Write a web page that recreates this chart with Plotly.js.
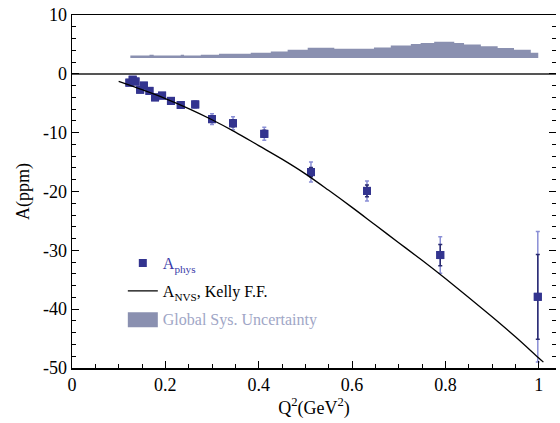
<!DOCTYPE html>
<html>
<head>
<meta charset="utf-8">
<script src="https://cdn.plot.ly/plotly-3.0.1.min.js"></script>
<style>
html,body{margin:0;padding:0;background:#fff;}
#chart{width:560px;height:423px;}
#chart .xtick text, #chart .ytick text, #chart .g-xtitle text, #chart .g-ytitle text, #chart .legendtext {
  font-family: 'Liberation Serif', 'Times New Roman', Times, serif !important;
}
</style>
</head>
<body>
<div id="chart"></div>
<script>
// Measured asymmetry
const q2 = [0.123, 0.130, 0.136, 0.146, 0.154, 0.166, 0.178, 0.193, 0.212, 0.233, 0.264, 0.300, 0.345, 0.412, 0.512, 0.632, 0.789, 0.998];
const aPhys = [-1.5, -1.0, -1.3, -2.7, -2.0, -2.9, -4.0, -3.7, -4.6, -5.3, -5.2, -7.7, -8.4, -10.2, -16.7, -19.9, -30.8, -37.9];
const statErr = [0.3, 0.3, 0.3, 0.3, 0.3, 0.3, 0.3, 0.3, 0.3, 0.3, 0.35, 0.5, 0.6, 0.6, 0.8, 1.0, 1.8, 7.2];
const totErr = [0.45, 0.45, 0.45, 0.45, 0.45, 0.45, 0.45, 0.45, 0.45, 0.45, 0.6, 0.9, 1.1, 1.1, 1.7, 1.7, 3.1, 11.1];

// A_NVS curve (Kelly form factors)
const curveQ2 = [0.10, 0.15, 0.20, 0.25, 0.30, 0.35, 0.40, 0.45, 0.50, 0.55, 0.60, 0.65, 0.70, 0.75, 0.80, 0.85, 0.90, 0.95, 1.00, 1.01];
const curveA = [-1.3, -2.7, -4.2, -5.9, -7.8, -9.9, -12.2, -14.5, -17.0, -19.8, -22.7, -25.7, -28.7, -31.7, -34.8, -38.0, -41.3, -44.7, -48.3, -49.0];

// Global systematic uncertainty band
const bandQ2 = [0.125, 0.166, 0.175, 0.233, 0.240, 0.276, 0.315, 0.383, 0.426, 0.462, 0.505, 0.562, 0.647, 0.683, 0.726, 0.747, 0.776, 0.819, 0.840, 0.876, 0.912, 0.947, 0.983, 0.999];
const bandTop = [3.1, 3.25, 3.1, 3.25, 3.1, 3.25, 3.4, 3.57, 3.8, 4.08, 4.42, 4.25, 4.47, 4.8, 5.05, 5.25, 5.45, 5.25, 5.0, 4.7, 4.4, 4.1, 3.6, 3.6];
const bandBottom = 2.7;

const xTicks = [0, 0.2, 0.4, 0.6, 0.8, 1];
const xTickText = ['0', '0.2', '0.4', '0.6', '0.8', '1'];
const yTicks = [10, 0, -10, -20, -30, -40, -50];
const yTickText = ['10', '0', '-10', '-20', '-30', '-40', '-50'];

const serif = "'Liberation Serif', 'Times New Roman', Times, serif";
const ptColor = '#33348f';

const polyX = bandQ2.concat(bandQ2.slice().reverse());
const polyY = bandTop.concat(bandQ2.map(() => bandBottom));

const traces = [
  {
    x: q2, y: aPhys, type: 'scatter', mode: 'markers', legendgroup: 'a',
    name: '<span style="color:#3b3ca8">A<sub>phys</sub></span>',
    marker: {symbol: 'square', size: 8, color: ptColor},
    error_y: {type: 'data', array: totErr, visible: true, color: '#8a8fd6', thickness: 1.5, width: 2}
  },
  {
    x: q2, y: aPhys, type: 'scatter', mode: 'markers', showlegend: false, legendgroup: 'a',
    marker: {symbol: 'square', size: 8, color: ptColor},
    error_y: {type: 'data', array: statErr, visible: true, color: '#2a2b70', thickness: 1.5, width: 2}
  },
  {
    x: curveQ2, y: curveA, type: 'scatter', mode: 'lines', legendgroup: 'b',
    name: 'A<sub>NVS</sub>, Kelly F.F.',
    line: {color: '#000', width: 1.3, shape: 'spline'}
  },
  {
    x: polyX, y: polyY, type: 'scatter', mode: 'lines', fill: 'toself', legendgroup: 'c',
    name: '<span style="color:#a0a6c6">Global Sys. Uncertainty</span>',
    line: {color: '#8a90b0', width: 0, shape: 'hv'},
    fillcolor: '#8a90b0'
  },
  {
    x: [0.5], y: [0], yaxis: 'y2', type: 'scatter', mode: 'markers', showlegend: false,
    marker: {opacity: 0, size: 1}, hoverinfo: 'skip'
  }
];

const layout = {
  width: 560, height: 423,
  margin: {l: 72, r: 4, t: 15, b: 55},
  paper_bgcolor: '#fff', plot_bgcolor: '#fff',
  font: {family: serif, color: '#000', size: 18},
  showlegend: true,
  legend: {x: 0.105, y: 0.345, xanchor: 'left', yanchor: 'top', bgcolor: 'rgba(0,0,0,0)',
           font: {family: serif, size: 16, color: '#000'}, tracegroupgap: 4, itemwidth: 30},
  xaxis: {
    range: [0, 1.037], showgrid: false, zeroline: false,
    showline: true, linecolor: '#000', linewidth: 1.5, mirror: true,
    ticks: 'inside', ticklen: 7, tickcolor: '#000', tickwidth: 1,
    tickvals: xTicks, ticktext: xTickText,
    tickfont: {family: serif, size: 18, color: '#000'},
    minor: {dtick: 0.05, ticks: 'inside', ticklen: 4, tickcolor: '#000', showgrid: false},
    title: {text: 'Q<sup>2</sup>(GeV<sup>2</sup>)', font: {family: serif, size: 18, color: '#000'}, standoff: 6}
  },
  yaxis: {
    range: [-50, 10], showgrid: false,
    zeroline: true, zerolinecolor: '#555', zerolinewidth: 1.5,
    showline: true, linecolor: '#000', linewidth: 1.5,
    ticks: 'inside', ticklen: 7, tickcolor: '#000', tickwidth: 1,
    tickvals: yTicks, ticktext: yTickText,
    tickfont: {family: serif, size: 18, color: '#000'},
    minor: {dtick: 2, ticks: 'inside', ticklen: 4, tickcolor: '#000', showgrid: false},
    title: {text: 'A(ppm)', font: {family: serif, size: 18, color: '#000'}, standoff: 8}
  },
  yaxis2: {
    range: [-50, 10], overlaying: 'y', side: 'right', showgrid: false, zeroline: false,
    showline: false, showticklabels: false,
    ticks: 'inside', ticklen: 7, tickcolor: '#000', tickwidth: 1, tickvals: yTicks,
    minor: {dtick: 2, ticks: 'inside', ticklen: 4, tickcolor: '#000', showgrid: false}
  }
};

Plotly.newPlot('chart', traces, layout, {displayModeBar: false, staticPlot: true}).then(function (gd) {
  // enlarge the legend swatch of the filled band to a box like the reference
  gd.querySelectorAll('.legendfill path').forEach(function (p) {
    const b = p.getBBox();
    if (b.height > 0 && b.height < 12) {
      const cy = b.y + b.height / 2;
      p.setAttribute('transform', 'translate(0,' + cy + ') scale(1,' + (15 / b.height) + ') translate(0,' + (-cy) + ')');
    }
  });
});
</script>
</body>
</html>
